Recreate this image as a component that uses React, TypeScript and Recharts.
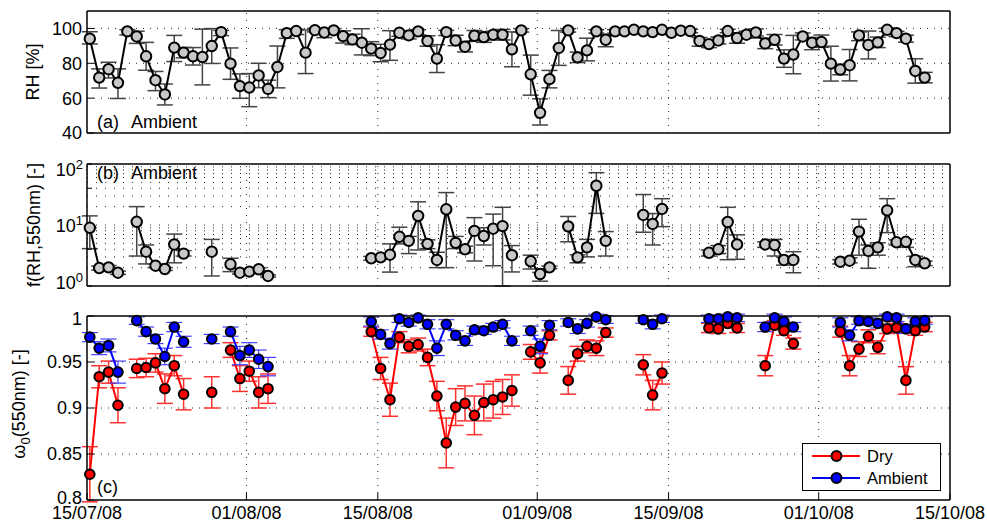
import React from 'react';
import { ComposedChart, Line, XAxis, YAxis, ErrorBar, ReferenceLine, Legend } from 'recharts';

const FONT = '"Liberation Sans", Arial, Helvetica, sans-serif';

// ---- axes / ticks ----
const dateTicks = [0, 17, 31, 48, 62, 78, 92];
const dateLabels = ['15/07/08', '01/08/08', '15/08/08', '01/09/08', '15/09/08', '01/10/08', '15/10/08'];
const rhTicks = [40, 60, 80, 100];
const fAllTicks = [1, 2, 3, 4, 5, 6, 7, 8, 9, 10, 20, 30, 40, 50, 60, 70, 80, 90, 100];
const wTicks = [0.8, 0.85, 0.9, 0.95, 1];

// ---- data: one entry per day since 15/07/08 ----
const days = [
  0, 1, 2, 3, 4, 5, 6, 7, 8, 9,
  10, 11, 12, 13, 14, 15, 16, 17, 18, 19,
  20, 21, 22, 23, 24, 25, 26, 27, 28, 29,
  30, 31, 32, 33, 34, 35, 36, 37, 38, 39,
  40, 41, 42, 43, 44, 45, 46, 47, 48, 49,
  50, 51, 52, 53, 54, 55, 56, 57, 58, 59,
  60, 61, 62, 63, 64, 65, 66, 67, 68, 69,
  70, 71, 72, 73, 74, 75, 76, 77, 78, 79,
  80, 81, 82, 83, 84, 85, 86, 87, 88, 89,
];

const rh = [
  94.1, 71.8, 76.6, 68.8, 98.3, 95.4, 84, 70.3, 62.1, 89,
  86.1, 84, 83.6, 89.9, 97.9, 79.8, 66.9, 66.1, 73, 65.3,
  77.9, 97.3, 98.5, 86.1, 99, 97.7, 98.9, 95.6, 93.7, 91.8,
  88.4, 85.9, 90.7, 97.5, 96, 98.3, 92.8, 82.7, 97.9, 93.1,
  89.5, 95.8, 95, 96.4, 96.4, 88, 98.9, 73.7, 51.6, 70.9,
  88.8, 98.9, 83.4, 87.4, 98.3, 93.5, 98.3, 98.3, 99.2, 98.3,
  97.9, 99.2, 97.5, 98.7, 98.5, 92.8, 91.0, 93.1, 98.5, 94.5,
  96.4, 97.7, 91.4, 93.5, 82.7, 85, 95.4, 91.8, 92.2, 79.8,
  76.4, 78.9, 96, 90.5, 92, 99.2, 97.3, 94.1, 75.6, 71.8,
];
const rhErrLo = [
  3, 6, 5, 9, 2, 4, 8, 6, 6, 8,
  3, 5, 16, 10, 2, 9, 7, 11, 7, 5,
  12, 3, 2, 12, 1, 3, 2, 4, 3, 7,
  4, 5, 9, 2, 2, 2, 3, 8, 2, 3,
  3, 3, 3, 3, 3, 10, 1, 12, 7, 5,
  10, 1, 3, 6, 1, 4, 1, 1, 1, 1,
  1, 1, 1, 1, 1, 3, 2, 2, 1, 3,
  2, 2, 3, 3, 5, 11, 2, 4, 3, 10,
  3, 9, 3, 8, 3, 1, 2, 2, 7, 3,
];
const rhErrHi = [
  4, 5, 4, 8, 1, 3, 8, 5, 6, 7,
  3, 5, 16, 10, 1, 9, 7, 8, 7, 5,
  12, 2, 1, 13, 1, 2, 1, 3, 3, 8,
  4, 5, 8, 1, 2, 1, 3, 8, 1, 3,
  3, 3, 3, 2, 3, 10, 1, 11, 8, 5,
  10, 1, 3, 7, 1, 3, 1, 1, 1, 1,
  1, 1, 1, 1, 1, 2, 2, 2, 1, 3,
  2, 2, 3, 3, 5, 11, 2, 3, 4, 10,
  3, 9, 2, 8, 3, 1, 1, 2, 7, 3,
];

const fRH = [
  9.0, 1.97, 2.02, 1.65, null, 11.3, 3.65, 2.15, 1.9, 4.8,
  3.4, null, null, 3.65, null, 2.27, 1.65, 1.72, 1.88, 1.46,
  null, null, null, null, null, null, null, null, null, null,
  2.85, 2.95, 3.26, 6.4, 5.5, 14.1, 4.9, 2.67, 18.1, 5.1,
  4.0, 8.0, 6.6, 8.7, 9.6, 3.2, null, 2.54, 1.57, 2.02,
  null, 9.5, 2.95, 4.3, 44, 5.5, null, null, null, 14.6,
  10.4, 18.3, null, null, null, null, 3.5, 4.0, 11.2, 4.8,
  null, null, 4.8, 4.7, 2.67, 2.67, null, null, null, null,
  2.5, 2.6, 7.8, 3.75, 4.3, 17.4, 5.2, 5.3, 2.67, 2.36,
];
const fErrLo = [
  4.9, 0.15, 0.15, 0.1, null, 8.2, 1.35, 0.15, 0.1, 2.4,
  0.3, null, null, 2.19, null, 0.55, 0.08, 0.1, 0.1, 0.06,
  null, null, null, null, null, null, null, null, null, null,
  0.2, 0.2, 1.57, 1.5, 2.1, 10.2, 0.8, 0.67, 16.1, 1.0,
  0.5, 5.43, 1.9, 6.55, 8.6, 1.5, null, 0.64, 0.37, 0.1,
  null, 4.2, 0.55, 1.3, 28.5, 2.4, null, null, null, 7,
  5.7, 8.9, null, null, null, null, 0.4, 0.6, 8.5, 2.06,
  null, null, 0.5, 1.6, 0.47, 1.02, null, null, null, null,
  0.2, 0.2, 4.6, 1.8, 1.1, 9.9, 0.5, 1.0, 0.6, 0.2,
];
const fErrHi = [
  5.1, 0.15, 0.15, 0.1, null, 8.7, 1.05, 0.15, 0.1, 2.3,
  0.4, null, null, 2.15, null, 0.58, 0.08, 0.1, 0.1, 0.06,
  null, null, null, null, null, null, null, null, null, null,
  0.2, 0.2, 1.64, 2.8, 1.0, 9.9, 0.8, 0.9, 15.9, 1.4,
  0.5, 5.2, 2.4, 6.4, 9.9, 1.4, null, 0.66, 0.1, 0.1,
  null, 4.3, 0.3, 1.5, 28, 2.3, null, null, null, 17,
  5, 8.7, null, null, null, null, 0.4, 0.6, 8.3, 2.1,
  null, null, 0.5, 1.1, 0.3, 0.98, null, null, null, null,
  0.2, 0.3, 4.6, 0.95, 0.8, 9.6, 0.5, 0.5, 0.4, 0.2,
];

const dry = [
  0.828, 0.934, 0.939, 0.903, null, 0.943, 0.944, 0.949, 0.921, 0.946,
  0.915, null, null, 0.917, null, 0.963, 0.932, 0.940, 0.917, 0.921,
  null, null, null, null, null, null, null, null, null, null,
  0.983, 0.943, 0.909, 0.977, 0.967, 0.969, 0.955, 0.913, 0.862, 0.901,
  0.905, 0.892, 0.906, 0.909, 0.912, 0.919, null, 0.961, 0.949, 0.979,
  null, 0.930, 0.959, 0.967, 0.965, 0.982, null, null, null, 0.947,
  0.914, 0.938, null, null, null, null, 0.987, 0.986, 0.992, 0.987,
  null, null, 0.946, 0.990, 0.984, 0.970, null, null, null, null,
  0.983, 0.946, 0.964, 0.978, 0.966, 0.986, 0.987, 0.930, 0.984, 0.988,
];
const dryErr = [
  0.03, 0.012, 0.012, 0.019, null, 0.01, 0.01, 0.01, 0.016, 0.011,
  0.017, null, null, 0.017, null, 0.008, 0.014, 0.011, 0.017, 0.016,
  null, null, null, null, null, null, null, null, null, null,
  0.005, 0.012, 0.018, 0.006, 0.007, 0.007, 0.009, 0.016, 0.027, 0.02,
  0.019, 0.021, 0.02, 0.02, 0.019, 0.017, null, 0.008, 0.011, 0.005,
  null, 0.015, 0.008, 0.007, 0.008, 0.005, null, null, null, 0.011,
  0.016, 0.012, null, null, null, null, 0.005, 0.005, 0.005, 0.005,
  null, null, 0.011, 0.005, 0.005, 0.006, null, null, null, null,
  0.006, 0.011, 0.008, 0.007, 0.007, 0.005, 0.005, 0.015, 0.005, 0.005,
];

const amb = [
  0.977, 0.965, 0.968, 0.939, null, 0.995, 0.983, 0.975, 0.956, 0.988,
  0.972, null, null, 0.975, null, 0.983, 0.957, 0.963, 0.953, 0.945,
  null, null, null, null, null, null, null, null, null, null,
  0.994, 0.980, 0.970, 0.997, 0.993, 0.998, 0.991, 0.965, 0.991, 0.979,
  0.973, 0.985, 0.984, 0.988, 0.991, 0.973, null, 0.984, 0.967, 0.990,
  null, 0.993, 0.986, 0.992, 0.999, 0.996, null, null, null, 0.996,
  0.991, 0.997, null, null, null, null, 0.997, 0.997, 0.999, 0.998,
  null, null, 0.988, 0.998, 0.994, 0.988, null, null, null, null,
  0.993, 0.979, 0.995, 0.994, 0.992, 0.999, 0.998, 0.986, 0.994, 0.995,
];
const ambErr = [
  0.005, 0.007, 0.007, 0.012, null, 0.004, 0.005, 0.005, 0.009, 0.005,
  0.006, null, null, 0.005, null, 0.005, 0.01, 0.008, 0.01, 0.01,
  null, null, null, null, null, null, null, null, null, null,
  0.005, 0.005, 0.006, 0.004, 0.004, 0.003, 0.005, 0.008, 0.005, 0.005,
  0.005, 0.004, 0.004, 0.004, 0.004, 0.005, null, 0.005, 0.008, 0.005,
  null, 0.004, 0.005, 0.004, 0.003, 0.004, null, null, null, 0.004,
  0.005, 0.004, null, null, null, null, 0.004, 0.004, 0.003, 0.004,
  null, null, 0.005, 0.004, 0.005, 0.005, null, null, null, null,
  0.005, 0.006, 0.004, 0.004, 0.005, 0.003, 0.004, 0.005, 0.004, 0.004,
];

const legendItems = [
  { label: 'Dry', color: '#ff0000' },
  { label: 'Ambient', color: '#0000ff' },
];

const TIME_OFFSET = 0.3; // samples are plotted slightly after midnight

const data = days.map((d, i) => ({
  t: d + TIME_OFFSET,
  rh: rh[i],
  rhE: [rhErrLo[i], rhErrHi[i]],
  f: fRH[i],
  fE: fRH[i] == null ? null : [fErrLo[i], fErrHi[i]],
  dry: dry[i],
  dryE: dryErr[i],
  amb: amb[i],
  ambE: ambErr[i],
}));

const W = 987;
const axisLine = { stroke: '#000', strokeWidth: 1.5 };
const tickLine = { stroke: '#000', strokeWidth: 1 };
const tickFont = { fontSize: 18, fill: '#000', fontFamily: FONT };
const gridStyle = { stroke: '#222', strokeWidth: 1, strokeDasharray: '1 6' };

// MATLAB-like placement of the power-of-ten labels (kept inside the axes box)
const LOG_LABEL_SHIFT: Record<number, number> = { 0: 3, 1: 6.5, 2: 11.5 };

const LogTick = (props: any) => {
  const { x, y, payload } = props;
  const v = payload.value;
  const exp = Math.round(Math.log10(v));
  if (Math.abs(Math.pow(10, exp) - v) > 1e-9) return <g />;
  return (
    <text x={x + 1} y={y} dy={LOG_LABEL_SHIFT[exp] ?? 6.5} textAnchor="end" fontSize={18} fontFamily={FONT} fill="#000">
      10
      <tspan dy={-7} fontSize={13}>{exp}</tspan>
    </text>
  );
};

// omega axis labels: the end labels sit slightly inside the axis range
const OmegaTick = (props: any) => {
  const { x, y, payload } = props;
  const v = payload.value;
  const shift = v <= 0.8 ? -2 : v >= 1 ? 2.5 : 0;
  return (
    <text x={x} y={y + shift} dy={6.4} textAnchor="end" fontSize={18} fontFamily={FONT} fill="#000">
      {String(v)}
    </text>
  );
};

const LegendBox = () => (
  <svg width={139} height={48} style={{ display: 'block' }}>
    <rect x={0.5} y={0.5} width={138} height={47} fill="#fff" stroke="#000" strokeWidth={1} />
    {legendItems.map((it, i) => (
      <g key={it.label}>
        <line x1={10} x2={58} y1={13 + i * 22} y2={13 + i * 22} stroke={it.color} strokeWidth={2} />
        <circle cx={34.5} cy={13 + i * 22} r={5} fill={it.color} stroke="#000" strokeWidth={2} />
        <text x={65} y={19 + i * 22} fontSize={16.5} fontFamily={FONT} fill="#000">{it.label}</text>
      </g>
    ))}
  </svg>
);

export default function App() {
  const common = { xAxisId: 'b', yAxisId: 'l' } as const;
  const greyDot = { r: 5.2, fill: '#c8c8c8', stroke: '#000', strokeWidth: 2, clipDot: false };
  return (
    <div style={{ position: 'absolute', left: 0, top: 0, width: W, height: 523, background: '#fff', fontFamily: FONT }}>
      {/* Panel (a) */}
      <div style={{ position: 'absolute', left: 0, top: 0 }}>
        <ComposedChart width={W} height={145} data={data} margin={{ top: 10, right: 36, bottom: 11, left: 27 }}>
          <XAxis xAxisId="b" dataKey="t" type="number" domain={[0, 92]} ticks={dateTicks} tick={false}
            tickSize={-7} axisLine={axisLine} tickLine={tickLine} height={1} allowDataOverflow />
          <XAxis xAxisId="t" orientation="top" dataKey="t" type="number" domain={[0, 92]} ticks={dateTicks} tick={false}
            tickSize={-7} axisLine={axisLine} tickLine={tickLine} height={1} allowDataOverflow />
          <YAxis yAxisId="l" type="number" domain={[40, 110]} ticks={rhTicks} tickSize={-7} tickMargin={12}
            axisLine={axisLine} tickLine={tickLine} tick={tickFont} width={60} allowDataOverflow />
          <YAxis yAxisId="r" orientation="right" type="number" domain={[40, 110]} ticks={rhTicks} tickSize={-7}
            axisLine={axisLine} tickLine={tickLine} tick={false} width={1} allowDataOverflow />
          {rhTicks.slice(1).map((v) => (
            <ReferenceLine key={'h' + v} {...common} y={v} {...gridStyle} />
          ))}
          {dateTicks.slice(1, -1).map((v) => (
            <ReferenceLine key={'v' + v} {...common} x={v} {...gridStyle} />
          ))}
          <Line {...common} type="linear" dataKey="rh" stroke="#000" strokeWidth={2}
            dot={greyDot} activeDot={false} isAnimationActive={false}>
            <ErrorBar dataKey="rhE" width={8} stroke="#444" strokeWidth={1.5} direction="y" isAnimationActive={false} />
          </Line>
        </ComposedChart>
      </div>

      {/* Panel (b) */}
      <div style={{ position: 'absolute', left: 0, top: 150 }}>
        <ComposedChart width={W} height={145} data={data} margin={{ top: 13, right: 36, bottom: 8, left: 27 }}>
          <XAxis xAxisId="b" dataKey="t" type="number" domain={[0, 92]} ticks={dateTicks} tick={false}
            tickSize={-7} axisLine={axisLine} tickLine={tickLine} height={1} allowDataOverflow />
          <XAxis xAxisId="t" orientation="top" dataKey="t" type="number" domain={[0, 92]} ticks={dateTicks} tick={false}
            tickSize={-7} axisLine={axisLine} tickLine={tickLine} height={1} allowDataOverflow />
          <YAxis yAxisId="l" type="number" scale="log" domain={[1, 100]} ticks={fAllTicks} tickSize={-5} tickMargin={10}
            axisLine={axisLine} tickLine={tickLine} tick={<LogTick />} width={60} allowDataOverflow />
          <YAxis yAxisId="r" orientation="right" type="number" scale="log" domain={[1, 100]} ticks={fAllTicks} tickSize={-5}
            axisLine={axisLine} tickLine={tickLine} tick={false} width={1} allowDataOverflow />
          {fAllTicks.filter((v) => v > 1 && v < 100).map((v) => (
            <ReferenceLine key={'h' + v} {...common} y={v} stroke="#222" strokeWidth={1} strokeDasharray="1 8" />
          ))}
          {dateTicks.slice(1, -1).map((v) => (
            <ReferenceLine key={'v' + v} {...common} x={v} {...gridStyle} />
          ))}
          <Line {...common} type="linear" dataKey="f" stroke="#000" strokeWidth={2}
            dot={greyDot} activeDot={false} isAnimationActive={false}>
            <ErrorBar dataKey="fE" width={8} stroke="#444" strokeWidth={1.5} direction="y" isAnimationActive={false} />
          </Line>
        </ComposedChart>
      </div>

      {/* Panel (c) */}
      <div style={{ position: 'absolute', left: 0, top: 300 }}>
        <ComposedChart width={W} height={223} data={data} margin={{ top: 15, right: 36, bottom: 0, left: 27 }}>
          <XAxis xAxisId="b" dataKey="t" type="number" domain={[0, 92]} ticks={dateTicks}
            tickFormatter={(v: number) => dateLabels[dateTicks.indexOf(v)] ?? ''}
            tickSize={-7} tickMargin={13} axisLine={axisLine} tickLine={tickLine} tick={tickFont} height={23}
            interval={0} allowDataOverflow />
          <XAxis xAxisId="t" orientation="top" dataKey="t" type="number" domain={[0, 92]} ticks={dateTicks} tick={false}
            tickSize={-7} axisLine={axisLine} tickLine={tickLine} height={1} allowDataOverflow />
          <YAxis yAxisId="l" type="number" domain={[0.8, 1]} ticks={wTicks} tickSize={-7} tickMargin={12}
            axisLine={axisLine} tickLine={tickLine} tick={<OmegaTick />} width={60} allowDataOverflow interval={0} />
          <YAxis yAxisId="r" orientation="right" type="number" domain={[0.8, 1]} ticks={wTicks} tickSize={-7}
            axisLine={axisLine} tickLine={tickLine} tick={false} width={1} allowDataOverflow />
          {wTicks.slice(1, -1).map((v) => (
            <ReferenceLine key={'h' + v} {...common} y={v} {...gridStyle} />
          ))}
          {dateTicks.slice(1, -1).map((v) => (
            <ReferenceLine key={'v' + v} {...common} x={v} {...gridStyle} />
          ))}
          <Line {...common} type="linear" dataKey="dry" name="Dry" stroke="#ff0000" strokeWidth={2}
            dot={{ r: 4.8, fill: '#ff0000', stroke: '#000', strokeWidth: 2, clipDot: false }} activeDot={false} isAnimationActive={false}>
            <ErrorBar dataKey="dryE" width={8} stroke="#ff3030" strokeWidth={1.5} direction="y" isAnimationActive={false} />
          </Line>
          <Line {...common} type="linear" dataKey="amb" name="Ambient" stroke="#0000ff" strokeWidth={2}
            dot={{ r: 4.8, fill: '#0000ff', stroke: '#000', strokeWidth: 2, clipDot: false }} activeDot={false} isAnimationActive={false}>
            <ErrorBar dataKey="ambE" width={8} stroke="#4040ff" strokeWidth={1.2} direction="y" isAnimationActive={false} />
          </Line>
          <Legend layout="horizontal" verticalAlign="middle" align="center"
            wrapperStyle={{ left: 802, top: 143, width: 139, height: 48 }} content={() => <LegendBox />} />
        </ComposedChart>
      </div>

      {/* Titles and panel labels */}
      <svg width={W} height={523} style={{ position: 'absolute', left: 0, top: 0, pointerEvents: 'none' }}>
        <g fontFamily={FONT} fontSize={18} fill="#000">
          <text transform="translate(39,72) rotate(-90)" textAnchor="middle">RH [%]</text>
          <text transform="translate(40,225) rotate(-90)" textAnchor="middle">f(RH,550nm) [-]</text>
          <text transform="translate(25,404) rotate(-90)" textAnchor="middle">
            ω<tspan dy={5} fontSize={13}>0</tspan><tspan dy={-5}>(550nm) [-]</tspan>
          </text>
          <text x={97} y={128}>(a)</text>
          <text x={131} y={128}>Ambient</text>
          <text x={97} y={179}>(b)</text>
          <text x={131} y={179}>Ambient</text>
          <text x={97} y={493}>(c)</text>
        </g>
      </svg>
    </div>
  );
}
